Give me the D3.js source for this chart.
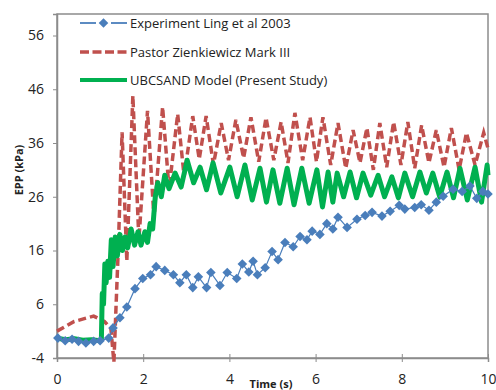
<!DOCTYPE html>
<html>
<head>
<meta charset="utf-8">
<script src="https://cdn.jsdelivr.net/npm/d3@7"></script>
<style>
  html, body { margin: 0; padding: 0; background: #fff; }
  svg { display: block; }
  text { font-family: "Open Sans", "Liberation Sans", sans-serif; }
</style>
</head>
<body>
<svg id="chart" width="496" height="390"></svg>
<script>
// ---- data ----
const xTicks = [0, 2, 4, 6, 8, 10];
const yTicks = [-4, 6, 16, 26, 36, 46, 56];
const seriesNames = ["Experiment Ling et al 2003", "Pastor Zienkiewicz Mark III", "UBCSAND Model (Present Study)"];

const expTime = [0.02, 0.19, 0.35, 0.5, 0.67, 0.85, 1.0, 1.2, 1.3, 1.46, 1.62, 1.81, 1.99, 2.17, 2.3, 2.5, 2.7, 2.85, 3.0, 3.15, 3.28, 3.47, 3.57, 3.78, 3.95, 4.17, 4.3, 4.45, 4.55, 4.65, 4.83, 4.99, 5.13, 5.29, 5.48, 5.64, 5.8, 5.92, 6.1, 6.26, 6.4, 6.52, 6.73, 6.96, 7.15, 7.31, 7.54, 7.73, 7.94, 8.07, 8.3, 8.45, 8.63, 8.8, 8.96, 9.19, 9.4, 9.58, 9.74, 9.88, 10.0];
const expEPP = [-0.3, -0.8, -0.5, -0.9, -1.2, -0.9, -0.8, -0.3, 1.6, 3.5, 5.5, 8.9, 10.8, 11.5, 13.0, 12.3, 11.5, 10.0, 11.5, 9.1, 11.1, 9.1, 11.9, 9.5, 11.9, 10.8, 13.5, 12.0, 14.0, 11.5, 12.8, 15.8, 14.3, 17.5, 16.7, 18.6, 18.0, 19.6, 19.0, 21.0, 20.0, 22.2, 20.3, 21.8, 22.5, 23.1, 22.4, 23.3, 24.4, 23.7, 24.0, 24.5, 23.5, 25.0, 26.1, 27.4, 27.0, 28.0, 25.7, 27.0, 26.5];

const pzTime = [0, 0.4, 0.85, 1.1, 1.25, 1.32, 1.42, 1.51, 1.62, 1.76, 1.9, 2.1, 2.25, 2.45, 2.6, 2.8, 2.95, 3.15, 3.3, 3.46, 3.63, 3.81, 3.98, 4.15, 4.33, 4.5, 4.68, 4.85, 5.03, 5.2, 5.36, 5.52, 5.7, 5.87, 6.02, 6.17, 6.35, 6.52, 6.7, 6.87, 7.03, 7.19, 7.34, 7.49, 7.65, 7.81, 7.98, 8.14, 8.3, 8.46, 8.63, 8.8, 8.98, 9.15, 9.33, 9.5, 9.7, 9.9, 10.0];
const pzEPP = [1.0, 2.8, 3.8, 2.8, 1.5, -4.8, 16, 38, 14, 44.8, 18, 42, 22, 42.7, 27.4, 41.4, 29.8, 41, 33, 41, 32, 39.7, 32.8, 40.3, 33.2, 40.8, 32.5, 40.7, 32.8, 39.9, 32.3, 41.6, 32.8, 40.8, 32.5, 40.8, 31.9, 39.7, 31.3, 38.4, 32.3, 38.8, 31, 39.7, 31.5, 39.9, 31.9, 39.9, 31.3, 39.3, 32.3, 38.4, 31.5, 38.8, 31, 37.9, 31.9, 37.9, 35];

const ubcTime = [0, 0.2, 0.4, 0.6, 0.8, 1.0, 1.03, 1.05, 1.08, 1.11, 1.14, 1.18, 1.22, 1.26, 1.3, 1.35, 1.4, 1.46, 1.52, 1.58, 1.64, 1.72, 1.8, 1.88, 1.95, 2.04, 2.1, 2.16, 2.22, 2.28, 2.34, 2.42, 2.5, 2.6, 2.74, 2.88, 3.02, 3.17, 3.32, 3.47, 3.62, 3.8, 4.01, 4.18, 4.36, 4.53, 4.71, 4.86, 5.01, 5.17, 5.34, 5.5, 5.68, 5.85, 6.03, 6.16, 6.29, 6.4, 6.5, 6.65, 6.8, 6.95, 7.1, 7.28, 7.45, 7.6, 7.77, 7.92, 8.07, 8.25, 8.42, 8.57, 8.72, 8.88, 9.05, 9.2, 9.35, 9.52, 9.7, 9.85, 9.98, 10.0];
const ubcEPP = [-0.3, -0.6, -0.4, -0.7, -0.6, -0.8, -0.5, 8, 6, 13.5, 10, 14, 11, 18, 13, 18.5, 15, 19, 16, 18.5, 16.5, 20, 17, 19.5, 17, 19.5, 17.5, 21, 20, 26, 28.6, 26, 30, 27.5, 30.4, 27.8, 32.8, 28.6, 31.5, 27.3, 32.3, 26.7, 31.5, 26, 31.9, 25.4, 31.3, 25, 31, 24.8, 31.3, 24.5, 31.3, 24.8, 31, 24.1, 30.6, 25, 30.4, 26, 30.6, 25.8, 30.4, 26.3, 30, 26, 29.7, 25.8, 30.4, 26, 30.6, 26.7, 30.4, 26, 30.6, 25.8, 31.3, 25.4, 31.5, 25, 31.9, 30];

// ---- layout ----
const svg = d3.select("#chart");
const plotL = 57, plotR = 488, plotT = 14, plotB = 358;
const x = d3.scaleLinear().domain([0, 10]).range([plotL, plotR]);
const y = d3.scaleLinear().domain([-4, 60]).range([plotB, plotT]);

const axisColor = "#8c8c8c";
const blue = "#4a7ebb", red = "#c0504d", green = "#00b050";
const numFmt = d => String(d).replace("\u2212", "-");

// frame
svg.append("rect").attr("x", plotL).attr("y", plotT).attr("width", plotR - plotL).attr("height", plotB - plotT)
  .attr("fill", "none").attr("stroke", axisColor).attr("stroke-width", 1.5);

// axes
const yAxis = d3.axisLeft(y).tickValues(yTicks).tickSize(4).tickPadding(9).tickFormat(numFmt);
const gy = svg.append("g").attr("transform", `translate(${plotL},0)`).call(yAxis);
gy.select(".domain").attr("stroke", axisColor).attr("stroke-width", 1.5);
gy.selectAll(".tick line").attr("stroke", axisColor);
gy.selectAll(".tick text").attr("font-size", 14).attr("fill", "#222").style("font-family", "'Open Sans', sans-serif");

const xAxis = d3.axisBottom(x).tickValues(xTicks).tickSize(4).tickPadding(12).tickFormat(numFmt);
const gx = svg.append("g").attr("transform", `translate(0,${plotB})`).call(xAxis);
gx.select(".domain").attr("stroke", axisColor).attr("stroke-width", 1.5);
gx.selectAll(".tick line").attr("stroke", axisColor).attr("y1", -4).attr("y2", 4);
gx.selectAll(".tick text").attr("font-size", 14).attr("fill", "#222").style("font-family", "'Open Sans', sans-serif");

// axis titles
svg.append("text").attr("x", 271).attr("y", 388).attr("text-anchor", "middle")
  .attr("font-size", 11).attr("font-weight", "bold").attr("fill", "#222").text("Time (s)");
svg.append("text").attr("transform", "translate(23,170) rotate(-90)").attr("text-anchor", "middle")
  .attr("font-size", 11).attr("font-weight", "bold").attr("fill", "#222").text("EPP (kPa)");

// lines
const line = d3.line().x(d => x(d[0])).y(d => y(d[1]));
const pz = pzTime.map((t, i) => [t, pzEPP[i]]);
const ubc = ubcTime.map((t, i) => [t, ubcEPP[i]]);
const exp = expTime.map((t, i) => [t, expEPP[i]]);

svg.append("path").datum(pz).attr("d", line).attr("fill", "none").attr("stroke", red)
  .attr("stroke-width", 3.5).attr("stroke-dasharray", "8,4");
svg.append("path").datum(ubc).attr("d", line).attr("fill", "none").attr("stroke", green)
  .attr("stroke-width", 5).attr("stroke-linejoin", "round");
svg.append("path").datum(exp).attr("d", line).attr("fill", "none").attr("stroke", blue)
  .attr("stroke-width", 1.2);
const diamond = d3.symbol().type(d3.symbolSquare).size(46);
svg.append("g").selectAll("path").data(exp).join("path")
  .attr("transform", d => `translate(${x(d[0])},${y(d[1])}) rotate(45)`)
  .attr("d", diamond).attr("fill", blue);

// legend
const leg = svg.append("g");
const ly = [23, 52, 80];
leg.append("line").attr("x1", 80).attr("x2", 96).attr("y1", ly[0]).attr("y2", ly[0]).attr("stroke", blue).attr("stroke-width", 1.8);
leg.append("line").attr("x1", 111).attr("x2", 127).attr("y1", ly[0]).attr("y2", ly[0]).attr("stroke", blue).attr("stroke-width", 1.8);
leg.append("path").attr("transform", `translate(103.5,${ly[0]}) rotate(45)`).attr("d", diamond).attr("fill", blue);
leg.append("line").attr("x1", 80).attr("x2", 127).attr("y1", ly[1]).attr("y2", ly[1]).attr("stroke", red).attr("stroke-width", 3.5).attr("stroke-dasharray", "9,3.5");
leg.append("line").attr("x1", 80).attr("x2", 127).attr("y1", ly[2]).attr("y2", ly[2]).attr("stroke", green).attr("stroke-width", 4);
seriesNames.forEach((n, i) => {
  leg.append("text").attr("x", 130).attr("y", ly[i]).attr("dy", "0.35em")
    .attr("font-size", 13).attr("fill", "#222").text(n);
});
</script>
</body>
</html>
